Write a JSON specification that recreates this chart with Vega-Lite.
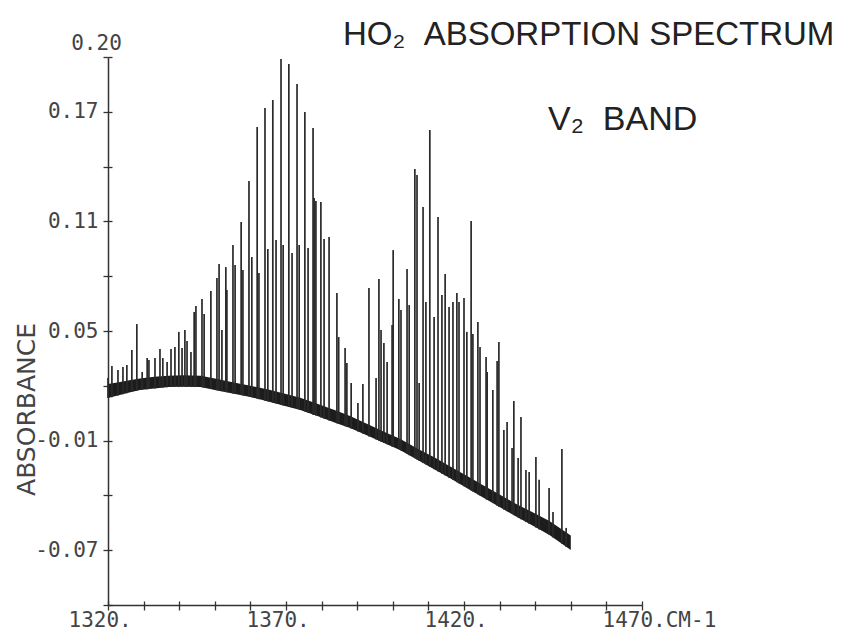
{
  "$schema": "https://vega.github.io/schema/vega-lite/v6.json",
  "width": 534,
  "height": 548,
  "autosize": {"type": "none"},
  "padding": {"left": 108, "top": 57, "right": 200, "bottom": 28},
  "background": "white",
  "title": {
    "text": "HO₂\u00a0\u00a0ABSORPTION SPECTRUM",
    "anchor": "start",
    "frame": "group",
    "dx": 235,
    "dy": 24,
    "font": "Liberation Sans",
    "fontSize": 33,
    "fontWeight": "normal",
    "color": "#222"
  },
  "config": {
    "view": {"stroke": null},
    "axis": {
      "grid": false,
      "domainColor": "#333",
      "domainWidth": 1.5,
      "tickColor": "#333",
      "tickWidth": 1.3,
      "tickSize": 5,
      "labelFont": "DejaVu Sans Mono",
      "labelFontSize": 21,
      "labelColor": "#444",
      "labelOverlap": false,
      "labelBound": false,
      "labelFlush": false
    }
  },
  "resolve": {"axis": {"x": "independent", "y": "independent"}},
  "datasets": {
    "band": [
      {"wn": 1320, "lo": 0.0133, "hi": 0.021},
      {"wn": 1323, "lo": 0.0148, "hi": 0.022},
      {"wn": 1326, "lo": 0.0163, "hi": 0.023},
      {"wn": 1329, "lo": 0.0177, "hi": 0.024},
      {"wn": 1333, "lo": 0.0185, "hi": 0.025},
      {"wn": 1337, "lo": 0.0193, "hi": 0.0255},
      {"wn": 1341, "lo": 0.0195, "hi": 0.0258},
      {"wn": 1346, "lo": 0.0193, "hi": 0.0255},
      {"wn": 1350, "lo": 0.0177, "hi": 0.024},
      {"wn": 1355, "lo": 0.0158, "hi": 0.022},
      {"wn": 1360, "lo": 0.0139, "hi": 0.02},
      {"wn": 1365, "lo": 0.0114, "hi": 0.018},
      {"wn": 1370, "lo": 0.0088, "hi": 0.0155},
      {"wn": 1374, "lo": 0.0068, "hi": 0.0135},
      {"wn": 1379, "lo": 0.0033, "hi": 0.01},
      {"wn": 1384, "lo": -0.0003, "hi": 0.0065},
      {"wn": 1388, "lo": -0.0031, "hi": 0.0035},
      {"wn": 1393, "lo": -0.0074, "hi": -0.001},
      {"wn": 1398, "lo": -0.0117, "hi": -0.0055},
      {"wn": 1402, "lo": -0.0151, "hi": -0.009},
      {"wn": 1407, "lo": -0.0206, "hi": -0.0145},
      {"wn": 1412, "lo": -0.0261, "hi": -0.0195},
      {"wn": 1416, "lo": -0.0305, "hi": -0.024},
      {"wn": 1421, "lo": -0.0362, "hi": -0.0295},
      {"wn": 1425, "lo": -0.0407, "hi": -0.034},
      {"wn": 1430, "lo": -0.0464, "hi": -0.0395},
      {"wn": 1434, "lo": -0.0508, "hi": -0.044},
      {"wn": 1439, "lo": -0.0562, "hi": -0.049},
      {"wn": 1444, "lo": -0.0617, "hi": -0.054},
      {"wn": 1447, "lo": -0.0658, "hi": -0.058},
      {"wn": 1450, "lo": -0.0699, "hi": -0.062}
    ],
    "lines": [
      {"wn": 1320.0, "a": 0.0243, "b": 0.0133},
      {"wn": 1321.1, "a": 0.0309, "b": 0.0138},
      {"wn": 1322.8, "a": 0.0287, "b": 0.0147},
      {"wn": 1324.2, "a": 0.0303, "b": 0.0154},
      {"wn": 1325.3, "a": 0.0314, "b": 0.0159},
      {"wn": 1326.7, "a": 0.0396, "b": 0.0166},
      {"wn": 1328.1, "a": 0.0538, "b": 0.0173},
      {"wn": 1329.6, "a": 0.0276, "b": 0.0178},
      {"wn": 1331.0, "a": 0.0352, "b": 0.0181},
      {"wn": 1331.5, "a": 0.0341, "b": 0.0182},
      {"wn": 1333.2, "a": 0.0352, "b": 0.0185},
      {"wn": 1334.6, "a": 0.0402, "b": 0.0188},
      {"wn": 1335.4, "a": 0.0352, "b": 0.019},
      {"wn": 1336.6, "a": 0.033, "b": 0.0192},
      {"wn": 1337.7, "a": 0.0402, "b": 0.0193},
      {"wn": 1338.8, "a": 0.0413, "b": 0.0193},
      {"wn": 1339.9, "a": 0.0495, "b": 0.0193},
      {"wn": 1340.8, "a": 0.0407, "b": 0.0193},
      {"wn": 1341.6, "a": 0.0506, "b": 0.0193},
      {"wn": 1342.2, "a": 0.0445, "b": 0.0193},
      {"wn": 1343.3, "a": 0.0385, "b": 0.0193},
      {"wn": 1344.2, "a": 0.0604, "b": 0.0193},
      {"wn": 1344.7, "a": 0.0637, "b": 0.0193},
      {"wn": 1346.4, "a": 0.0675, "b": 0.0192},
      {"wn": 1347.0, "a": 0.0593, "b": 0.0189},
      {"wn": 1348.9, "a": 0.0719, "b": 0.0182},
      {"wn": 1350.6, "a": 0.079, "b": 0.0175},
      {"wn": 1351.2, "a": 0.0867, "b": 0.0173},
      {"wn": 1352.0, "a": 0.0506, "b": 0.017},
      {"wn": 1353.1, "a": 0.085, "b": 0.0166},
      {"wn": 1353.4, "a": 0.0725, "b": 0.0165},
      {"wn": 1355.1, "a": 0.0971, "b": 0.0158},
      {"wn": 1355.7, "a": 0.0861, "b": 0.0156},
      {"wn": 1357.4, "a": 0.1097, "b": 0.0149},
      {"wn": 1357.9, "a": 0.0834, "b": 0.0147},
      {"wn": 1359.6, "a": 0.1321, "b": 0.0141},
      {"wn": 1360.4, "a": 0.0905, "b": 0.0137},
      {"wn": 1361.9, "a": 0.1617, "b": 0.0129},
      {"wn": 1362.4, "a": 0.0818, "b": 0.0127},
      {"wn": 1364.1, "a": 0.1721, "b": 0.0118},
      {"wn": 1364.9, "a": 0.0949, "b": 0.0114},
      {"wn": 1366.3, "a": 0.1765, "b": 0.0107},
      {"wn": 1367.2, "a": 0.0998, "b": 0.0103},
      {"wn": 1368.6, "a": 0.1989, "b": 0.0095},
      {"wn": 1369.2, "a": 0.0971, "b": 0.0092},
      {"wn": 1370.8, "a": 0.1962, "b": 0.0084},
      {"wn": 1371.7, "a": 0.0927, "b": 0.008},
      {"wn": 1373.1, "a": 0.1852, "b": 0.0073},
      {"wn": 1373.7, "a": 0.0971, "b": 0.007},
      {"wn": 1375.3, "a": 0.1699, "b": 0.0059},
      {"wn": 1376.2, "a": 0.0955, "b": 0.0052},
      {"wn": 1377.6, "a": 0.1611, "b": 0.0042},
      {"wn": 1377.9, "a": 0.1228, "b": 0.004},
      {"wn": 1378.4, "a": 0.1212, "b": 0.0037},
      {"wn": 1379.8, "a": 0.1206, "b": 0.0027},
      {"wn": 1380.7, "a": 0.1004, "b": 0.002},
      {"wn": 1382.1, "a": 0.1015, "b": 0.001},
      {"wn": 1384.3, "a": 0.0708, "b": -0.0005},
      {"wn": 1384.8, "a": 0.0467, "b": -0.0009},
      {"wn": 1386.6, "a": 0.0407, "b": -0.0021},
      {"wn": 1387.1, "a": 0.0325, "b": -0.0025},
      {"wn": 1388.3, "a": 0.0215, "b": -0.0034},
      {"wn": 1390.2, "a": 0.0106, "b": -0.005},
      {"wn": 1391.6, "a": 0.021, "b": -0.0062},
      {"wn": 1393.3, "a": 0.0735, "b": -0.0077},
      {"wn": 1395.3, "a": 0.0243, "b": -0.0094},
      {"wn": 1396.1, "a": 0.0785, "b": -0.0101},
      {"wn": 1396.7, "a": 0.0506, "b": -0.0106},
      {"wn": 1397.5, "a": 0.0434, "b": -0.0113},
      {"wn": 1398.4, "a": 0.033, "b": -0.012},
      {"wn": 1399.8, "a": 0.0533, "b": -0.0132},
      {"wn": 1400.1, "a": 0.0943, "b": -0.0135},
      {"wn": 1401.7, "a": 0.0675, "b": -0.0148},
      {"wn": 1402.3, "a": 0.0615, "b": -0.0154},
      {"wn": 1404.0, "a": 0.0839, "b": -0.0173},
      {"wn": 1404.6, "a": 0.0642, "b": -0.018},
      {"wn": 1406.2, "a": 0.1387, "b": -0.0197},
      {"wn": 1406.8, "a": 0.1354, "b": -0.0204},
      {"wn": 1407.4, "a": 0.0215, "b": -0.021},
      {"wn": 1408.5, "a": 0.1179, "b": -0.0223},
      {"wn": 1409.3, "a": 0.0659, "b": -0.0231},
      {"wn": 1410.4, "a": 0.16, "b": -0.0243},
      {"wn": 1411.6, "a": 0.0577, "b": -0.0257},
      {"wn": 1412.7, "a": 0.1124, "b": -0.0269},
      {"wn": 1413.8, "a": 0.0697, "b": -0.0281},
      {"wn": 1414.7, "a": 0.0812, "b": -0.0291},
      {"wn": 1415.8, "a": 0.0631, "b": -0.0303},
      {"wn": 1416.9, "a": 0.0659, "b": -0.0315},
      {"wn": 1418.0, "a": 0.0708, "b": -0.0328},
      {"wn": 1418.6, "a": 0.0659, "b": -0.0335},
      {"wn": 1420.0, "a": 0.0681, "b": -0.035},
      {"wn": 1420.8, "a": 0.0495, "b": -0.0359},
      {"wn": 1422.0, "a": 0.1102, "b": -0.0373},
      {"wn": 1422.5, "a": 0.0484, "b": -0.0379},
      {"wn": 1423.9, "a": 0.0549, "b": -0.0394},
      {"wn": 1424.5, "a": 0.0413, "b": -0.0401},
      {"wn": 1426.2, "a": 0.0358, "b": -0.0421},
      {"wn": 1426.5, "a": 0.0276, "b": -0.0424},
      {"wn": 1428.1, "a": 0.0177, "b": -0.0442},
      {"wn": 1429.3, "a": 0.0336, "b": -0.0456},
      {"wn": 1429.8, "a": 0.044, "b": -0.0462},
      {"wn": 1431.2, "a": -0.0042, "b": -0.0477},
      {"wn": 1432.1, "a": 0.0002, "b": -0.0487},
      {"wn": 1433.5, "a": -0.014, "b": -0.0502},
      {"wn": 1434.0, "a": 0.0117, "b": -0.0508},
      {"wn": 1435.2, "a": -0.0195, "b": -0.0521},
      {"wn": 1436.0, "a": 0.0029, "b": -0.053},
      {"wn": 1437.4, "a": -0.0261, "b": -0.0545},
      {"wn": 1438.3, "a": -0.0272, "b": -0.0555},
      {"wn": 1440.2, "a": -0.019, "b": -0.0576},
      {"wn": 1441.1, "a": -0.0315, "b": -0.0586},
      {"wn": 1443.9, "a": -0.0359, "b": -0.0616},
      {"wn": 1445.0, "a": -0.0491, "b": -0.0631},
      {"wn": 1447.5, "a": -0.0146, "b": -0.0665},
      {"wn": 1448.7, "a": -0.0578, "b": -0.0682}
    ],
    "notes": [
      {"label": "V₂\u00a0\u00a0BAND"}
    ]
  },
  "layer": [
    {
      "data": {"name": "band"},
      "mark": {"type": "area", "color": "#1c1c1c", "line": false},
      "encoding": {
        "x": {
          "field": "wn",
          "type": "quantitative",
          "scale": {"domain": [1320, 1470], "nice": false, "zero": false},
          "axis": {
            "orient": "bottom",
            "title": null,
            "values": [1320, 1330, 1340, 1350, 1360, 1370, 1380, 1390, 1400, 1410, 1420, 1430, 1440, 1450, 1460, 1470],
            "tickCount": 20,
            "labelExpr": "datum.value % 50 == 20 ? (datum.value == 1470 ? '1470.CM-1' : datum.value + '.') : ''",
            "labelOverlap": false,
            "labelAlign": "left",
            "labelOffset": -40,
            "labelPadding": -1,
            "labelBaseline": "top"
          }
        },
        "y": {
          "field": "lo",
          "type": "quantitative",
          "scale": {"domain": [-0.1, 0.2], "nice": false, "zero": false},
          "axis": {
            "orient": "left",
            "title": "ABSORBANCE",
            "titleFont": "DejaVu Sans",
            "titleFontSize": 25,
            "titleFontWeight": "normal",
            "titleColor": "#444",
            "titleAngle": 270,
            "titleAlign": "center",
            "titleBaseline": "middle",
            "titleX": -82,
            "titleY": 352,
            "values": [-0.1, -0.07, -0.04, -0.01, 0.02, 0.05, 0.08, 0.11, 0.14, 0.17, 0.2],
            "tickCount": 20,
            "labelOverlap": false,
            "labelExpr": "indexof([-7, -1, 5, 11, 17, 20], round(datum.value * 100)) >= 0 ? (datum.value < 0 ? '-' : '') + format(abs(datum.value), '.2f') : ''",
            "labelAlign": {"condition": {"test": "datum.value > 0.195", "value": "center"}, "value": "right"},
            "labelBaseline": {"condition": {"test": "datum.value > 0.195", "value": "bottom"}, "value": "middle"},
            "labelOffset": {"condition": {"test": "datum.value > 0.195", "value": -4}, "value": 0},
            "labelPadding": {"condition": {"test": "datum.value > 0.195", "value": 7}, "value": 5}
          }
        },
        "y2": {"field": "hi"}
      }
    },
    {
      "data": {"name": "lines"},
      "mark": {"type": "rule", "color": "#2a2a2a", "strokeWidth": 1.7},
      "encoding": {
        "x": {
          "field": "wn",
          "type": "quantitative",
          "axis": {
            "orient": "bottom",
            "title": null,
            "domain": false,
            "labels": false,
            "tickSize": -4,
            "tickCount": 20,
            "values": [1320, 1330, 1340, 1350, 1360, 1370, 1380, 1390, 1400, 1410, 1420, 1430, 1440, 1450, 1460, 1470]
          }
        },
        "y": {
          "field": "a",
          "type": "quantitative",
          "axis": {
            "orient": "left",
            "title": null,
            "domain": false,
            "labels": false,
            "tickSize": -4,
            "tickCount": 20,
            "values": [-0.1, -0.07, -0.04, -0.01, 0.02, 0.05, 0.08, 0.11, 0.14, 0.17, 0.2]
          }
        },
        "y2": {"field": "b"}
      }
    },
    {
      "data": {"name": "notes"},
      "mark": {"type": "text", "font": "Liberation Sans", "fontSize": 34, "color": "#222", "align": "left", "baseline": "alphabetic", "clip": false},
      "encoding": {
        "x": {"datum": 1443.6, "type": "quantitative", "axis": null},
        "y": {"datum": 0.16, "type": "quantitative", "axis": null},
        "text": {"field": "label"}
      }
    }
  ]
}
